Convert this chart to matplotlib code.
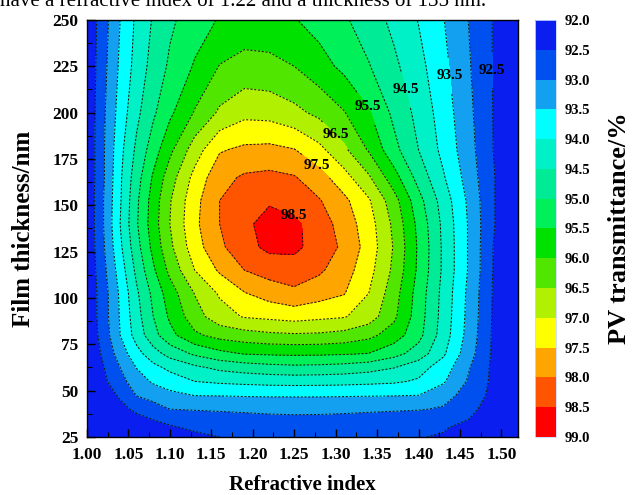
import matplotlib
matplotlib.use('Agg')
import numpy as np
import matplotlib.pyplot as plt
from matplotlib.ticker import MultipleLocator

plt.rcParams['font.family'] = 'Liberation Serif'
plt.rcParams['font.weight'] = 'bold'
plt.rcParams['axes.labelweight'] = 'bold'

# refractive index (columns) and film thickness in nm (rows)
refr_index = [1.00, 1.02, 1.04, 1.06, 1.08, 1.10, 1.13, 1.16, 1.19, 1.22,
              1.25, 1.28, 1.31, 1.34, 1.37, 1.40, 1.43, 1.46, 1.49, 1.52]
thickness = [25, 30, 35, 40, 47.5, 55, 62.5, 70, 80, 90,
             102.5, 115, 127.5, 140, 152.5, 165, 180, 200, 225, 250]

# PV transmittance (%), one list per thickness row
t_025 = [92.10, 92.15, 92.20, 92.25, 92.30, 92.35, 92.43, 92.50, 92.54, 92.58, 92.60, 92.59, 92.57, 92.55, 92.53, 92.51, 92.48, 92.36, 92.23, 92.10]
t_030 = [92.10, 92.17, 92.25, 92.32, 92.39, 92.46, 92.55, 92.63, 92.70, 92.75, 92.78, 92.77, 92.74, 92.69, 92.63, 92.57, 92.52, 92.43, 92.26, 92.10]
t_035 = [92.10, 92.21, 92.31, 92.42, 92.52, 92.60, 92.70, 92.78, 92.85, 92.90, 92.92, 92.91, 92.88, 92.83, 92.76, 92.67, 92.57, 92.51, 92.31, 92.10]
t_040 = [92.10, 92.25, 92.40, 92.57, 92.78, 93.00, 93.04, 93.07, 93.09, 93.11, 93.12, 93.12, 93.11, 93.09, 93.07, 93.04, 92.94, 92.60, 92.34, 92.10]
t_047 = [92.10, 92.31, 92.55, 93.02, 93.19, 93.37, 93.51, 93.52, 93.54, 93.55, 93.55, 93.55, 93.54, 93.53, 93.52, 93.50, 93.20, 92.80, 92.37, 92.10]
t_055 = [92.10, 92.40, 92.83, 93.26, 93.57, 93.74, 94.00, 94.08, 94.13, 94.17, 94.19, 94.18, 94.16, 94.12, 94.07, 93.94, 93.56, 92.95, 92.39, 92.10]
t_062 = [92.10, 92.48, 93.00, 93.52, 93.86, 94.12, 94.40, 94.62, 94.74, 94.83, 94.88, 94.86, 94.80, 94.69, 94.52, 94.20, 93.76, 93.05, 92.40, 92.10]
t_070 = [92.10, 92.59, 93.23, 93.83, 94.30, 94.68, 95.09, 95.36, 95.53, 95.57, 95.59, 95.58, 95.55, 95.49, 95.18, 94.78, 94.08, 93.22, 92.42, 92.10]
t_080 = [92.10, 92.71, 93.50, 94.21, 94.83, 95.35, 95.91, 96.18, 96.30, 96.40, 96.44, 96.42, 96.33, 96.14, 95.77, 95.16, 94.26, 93.33, 92.43, 92.10]
t_090 = [92.10, 92.77, 93.54, 94.31, 95.00, 95.58, 96.29, 96.79, 97.04, 97.11, 97.19, 97.11, 97.04, 96.75, 96.11, 95.24, 94.31, 93.37, 92.45, 92.10]
t_102 = [92.10, 92.77, 93.58, 94.42, 95.13, 95.76, 96.52, 97.06, 97.47, 97.72, 97.89, 97.71, 97.53, 97.00, 96.23, 95.29, 94.34, 93.40, 92.46, 92.10]
t_115 = [92.10, 92.86, 93.73, 94.63, 95.42, 96.13, 97.00, 97.57, 98.00, 98.20, 98.27, 98.08, 97.73, 97.17, 96.40, 95.40, 94.41, 93.47, 92.49, 92.10]
t_127 = [92.10, 92.95, 93.90, 94.82, 95.65, 96.39, 97.28, 97.90, 98.33, 98.62, 98.61, 98.30, 97.90, 97.29, 96.47, 95.43, 94.41, 93.47, 92.50, 92.10]
t_140 = [92.10, 93.00, 94.00, 94.95, 95.77, 96.50, 97.39, 98.00, 98.39, 98.69, 98.61, 98.25, 97.79, 97.22, 96.40, 95.36, 94.38, 93.47, 92.53, 92.10]
t_152 = [92.10, 93.00, 93.95, 94.91, 95.73, 96.46, 97.34, 98.00, 98.22, 98.44, 98.28, 98.04, 97.62, 97.06, 96.22, 95.18, 94.28, 93.42, 92.53, 92.10]
t_165 = [92.10, 92.95, 93.92, 94.79, 95.57, 96.27, 97.16, 97.84, 98.07, 98.13, 98.04, 97.70, 97.20, 96.57, 95.72, 94.82, 94.05, 93.30, 92.53, 92.10]
t_180 = [92.10, 92.95, 93.85, 94.61, 95.26, 95.88, 96.75, 97.45, 97.60, 97.63, 97.52, 97.14, 96.60, 95.95, 95.16, 94.50, 93.86, 93.20, 92.50, 92.10]
t_200 = [92.10, 92.92, 93.71, 94.38, 94.92, 95.40, 96.04, 96.58, 96.86, 96.82, 96.63, 96.38, 96.03, 95.55, 94.89, 94.35, 93.76, 93.13, 92.49, 92.10]
t_225 = [92.10, 92.85, 93.59, 94.19, 94.69, 95.08, 95.55, 96.02, 96.17, 96.13, 96.00, 95.70, 95.38, 95.03, 94.61, 94.16, 93.63, 93.06, 92.48, 92.10]
t_250 = [92.10, 92.79, 93.50, 94.10, 94.55, 94.91, 95.26, 95.54, 95.70, 95.70, 95.53, 95.31, 95.07, 94.75, 94.38, 93.98, 93.52, 93.00, 92.48, 92.10]

levels = [92.0, 92.5, 93.0, 93.5, 94.0, 94.5, 95.0, 95.5, 96.0, 96.5, 97.0, 97.5, 98.0, 98.5, 99.0]
band_colors = ['#0a1ef0', '#0050f0', '#14a0f0', '#00ffff', '#00f0c8', '#00eb96', '#00f05a',
               '#00e100', '#50e600', '#b0f000', '#ffff00', '#ffa500', '#ff5500', '#ff0000']
plain_levels = [93.0, 94.0, 95.0, 96.0, 97.0, 98.0]
label_levels = [92.5, 93.5, 94.5, 95.5, 96.5, 97.5, 98.5]
label_spots = [(1.486, 223), (1.440, 220), (1.387, 213), (1.341, 204), (1.302, 189), (1.276, 171), (1.252, 147)]

Z = np.array([t_025, t_030, t_035, t_040, t_047, t_055, t_062, t_070, t_080, t_090,
              t_102, t_115, t_127, t_140, t_152, t_165, t_180, t_200, t_225, t_250])
X, Y = np.meshgrid(refr_index, thickness)

fig = plt.figure(figsize=(6.34, 4.95), dpi=100)
ax = fig.add_axes([0.1372, 0.1172, 0.6798, 0.8424])
cax = fig.add_axes([0.8438, 0.1172, 0.0331, 0.8424])

dash = [(0, (2.0, 1.6))]
cf = ax.contourf(X, Y, Z, levels=levels, colors=band_colors)
ax.contour(X, Y, Z, levels=plain_levels, colors='#1a1a1a', linewidths=0.75, linestyles=dash)
cs = ax.contour(X, Y, Z, levels=label_levels, colors='#1a1a1a', linewidths=0.75, linestyles=dash)
lbls = ax.clabel(cs, manual=label_spots, fmt='%.1f', inline=True, fontsize=11, colors='k')
for t in lbls:
    t.set_rotation(0)

ax.set_xlim(1.00, 1.52)
ax.set_ylim(25, 250)
ax.xaxis.set_major_locator(MultipleLocator(0.05))
ax.xaxis.set_minor_locator(MultipleLocator(0.025))
ax.yaxis.set_major_locator(MultipleLocator(25))
ax.yaxis.set_minor_locator(MultipleLocator(12.5))
ax.xaxis.set_major_formatter(plt.FormatStrFormatter('%.2f'))
ax.tick_params(which='both', direction='in', top=False, right=False, labelsize=12.5)
ax.tick_params(which='major', length=6, width=1)
ax.tick_params(which='minor', length=3.5, width=0.8)
ax.tick_params(axis='x', which='major', pad=7)
ax.tick_params(axis='y', which='major', pad=6)
for sp in ax.spines.values():
    sp.set_linewidth(1.0)
ax.set_xlabel('Refractive index', fontsize=15)
ax.set_ylabel('Film thickness/nm', fontsize=18)
ax.xaxis.set_label_coords(0.5, -0.09)
ax.yaxis.set_label_coords(-0.12, 0.5)

cbar = fig.colorbar(cf, cax=cax, ticks=levels)
cax.invert_yaxis()
cax.set_yticklabels(['%.1f' % v for v in levels])
cax.tick_params(length=0, labelsize=10.5, pad=6)
cbar.outline.set_edgecolor('#c8d8ff')
cbar.outline.set_linewidth(0.6)
cbar.set_label('PV transmittance/%', fontsize=19)
cax.yaxis.set_label_coords(3.5, 0.5)

fig.text(0.0, 0.988, 'have a refractive index of 1.22 and a thickness of 135 nm.',
         fontsize=15, fontweight='normal', ha='left', va='baseline')

fig.savefig('out.png', dpi=100)
